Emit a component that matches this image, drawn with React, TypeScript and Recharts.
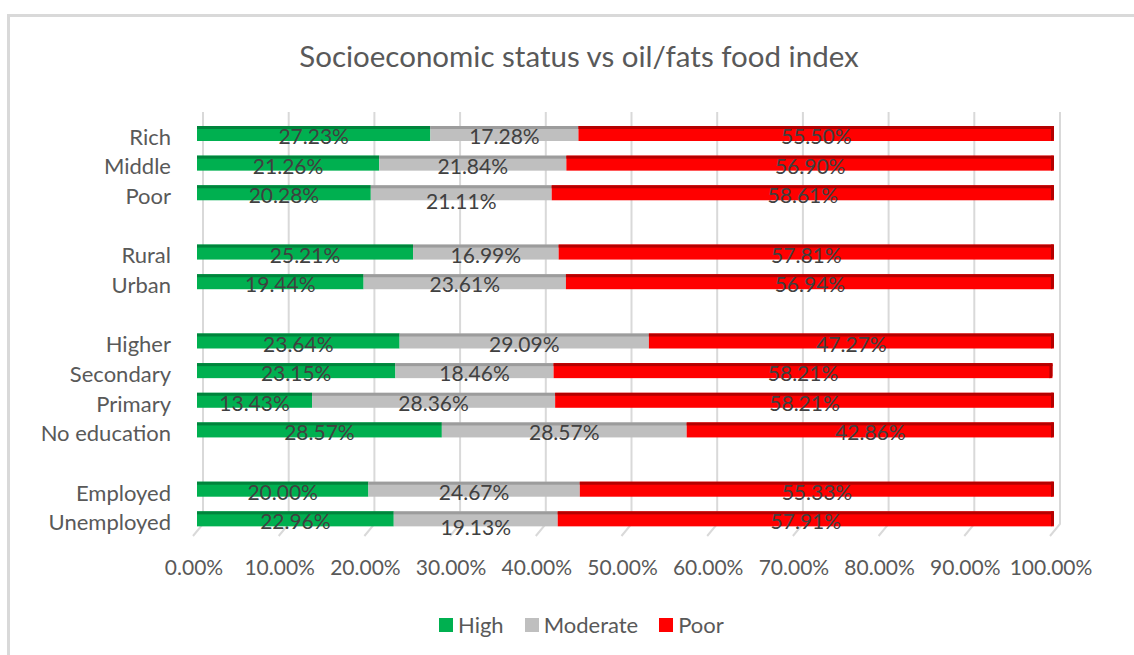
import React from 'react';
import { BarChart, Bar, XAxis, YAxis, CartesianGrid, Legend, LabelList } from 'recharts';

// Rows of the chart; null marks the blank spacer row between groups.
const categories: (string | null)[] = [
  'Rich', 'Middle', 'Poor', null,
  'Rural', 'Urban', null,
  'Higher', 'Secondary', 'Primary', 'No education', null,
  'Employed', 'Unemployed',
];
const highValues: (number | null)[] = [27.23, 21.26, 20.28, null, 25.21, 19.44, null, 23.64, 23.15, 13.43, 28.57, null, 20.0, 22.96];
const moderateValues: (number | null)[] = [17.28, 21.84, 21.11, null, 16.99, 23.61, null, 29.09, 18.46, 28.36, 28.57, null, 24.67, 19.13];
const poorValues: (number | null)[] = [55.5, 56.9, 58.61, null, 57.81, 56.94, null, 47.27, 58.21, 58.21, 42.86, null, 55.33, 57.91];

const xTicks = [0, 10, 20, 30, 40, 50, 60, 70, 80, 90, 100];
const seriesNames = ['High', 'Moderate', 'Poor'];
const seriesKeys = ['high', 'moderate', 'poor'];
const seriesColors = ['#00B050', '#BFBFBF', '#FF0000'];
const seriesEdges = ['#00843C', '#9C9C9C', '#B50000'];
// Moderate labels that sit a little below their bar.
const moderateLabelsBelow = ['Poor', 'Unemployed'];

const FONT = "Lato, 'Liberation Sans', sans-serif";
const TEXT = '#595959';

const rows = categories.map((c, i) => ({
  id: c ?? `gap-${i}`,
  high: highValues[i],
  moderate: moderateValues[i],
  poor: poorValues[i],
}));

const makeShape = (face: string, edge: string, endCap: boolean) => (props: any) => {
  const { x, y, width, height } = props;
  if (!width || width <= 0 || !height || Number.isNaN(x)) return <g />;
  const r = x + width;
  return (
    <g>
      <rect x={x} y={y} width={width} height={height} fill={face} />
      <rect x={x} y={y} width={width} height={3} fill={edge} />
      {endCap && (
        <path
          d={`M ${r - 3} ${y} H ${r - 1} Q ${r} ${y} ${r} ${y + 2} V ${y + height - 3} Q ${r} ${y + height} ${r - 3} ${y + height} Z`}
          fill={edge}
        />
      )}
    </g>
  );
};

const makeLabel = (lowered: string[]) => (props: any) => {
  const { x, y, width, height, value, index } = props;
  if (value == null || !width) return <g />;
  const name = categories[index];
  const shift = name && lowered.includes(name) ? 6 : 0;
  return (
    <text
      x={x + width / 2}
      y={y + height / 2 + 10.5 + shift}
      textAnchor="middle"
      fill="#404040"
      fontSize={21}
      fontFamily={FONT}
    >
      {`${Number(value).toFixed(2)}%`}
    </text>
  );
};

const gridLine = (props: any) => {
  const { x1, y1, y2, key } = props;
  return (
    <path
      key={key}
      d={`M ${x1 + 6} ${y1 - 7} V ${y2 - 10} L ${x1 - 4} ${y2 + 2}`}
      stroke="#D9D9D9"
      strokeWidth={2}
      fill="none"
    />
  );
};

const YTick = (props: any) => {
  const { x, y, payload } = props;
  const v = String(payload.value);
  if (v.startsWith('gap-')) return <g />;
  return (
    <text x={x} y={y + 11} textAnchor="end" fill={TEXT} fontSize={22} fontFamily={FONT}>
      {v}
    </text>
  );
};

const XTick = (props: any) => {
  const { x, y, payload } = props;
  return (
    <text x={x - 3} y={y + 41} textAnchor="middle" fill={TEXT} fontSize={21} fontFamily={FONT}>
      {`${Number(payload.value).toFixed(2)}%`}
    </text>
  );
};

const renderLegend = () => (
  <div style={{ display: 'flex', alignItems: 'center', fontFamily: FONT, fontSize: 22, color: TEXT, whiteSpace: 'nowrap' }}>
    {seriesNames.map((n, i) => (
      <div key={n} style={{ display: 'flex', alignItems: 'center', marginRight: i < seriesNames.length - 1 ? 21 : 0 }}>
        <span style={{ width: 14, height: 14, background: seriesColors[i], display: 'inline-block', marginRight: 5 }} />
        <span>{n}</span>
      </div>
    ))}
  </div>
);

export default function App() {
  return (
    <div style={{ position: 'absolute', left: 0, top: 0, width: 1134, height: 655, overflow: 'hidden', background: '#fff' }}>
      <div
        style={{
          position: 'absolute', left: 7, top: 14, width: 1200, height: 700,
          borderLeft: '3px solid #D9D9D9', borderTop: '3px solid #D9D9D9',
        }}
      />
      <div
        style={{
          position: 'absolute', left: 0, top: 38, width: 1158, textAlign: 'center',
          fontFamily: FONT, fontSize: 29.5, color: TEXT, lineHeight: '36px',
        }}
      >
        Socioeconomic status vs oil/fats food index
      </div>
      <div style={{ position: 'absolute', left: 0, top: 0 }}>
        <BarChart
          width={1134}
          height={655}
          data={rows}
          layout="vertical"
          margin={{ top: 119, right: 80, bottom: 91, left: 0 }}
        >
          <CartesianGrid horizontal={false} vertical={gridLine} />
          <XAxis
            type="number"
            domain={[0, 100]}
            ticks={xTicks}
            allowDataOverflow
            axisLine={false}
            tickLine={false}
            tickSize={0}
            tickMargin={0}
            height={30}
            tick={<XTick />}
            interval={0}
          />
          <YAxis
            type="category"
            dataKey="id"
            width={197}
            axisLine={false}
            tickLine={false}
            tickSize={0}
            tickMargin={26}
            interval={0}
            tick={<YTick />}
          />
          <Legend
            verticalAlign="middle"
            align="center"
            wrapperStyle={{ left: 439, top: 611, width: 'auto' }}
            content={renderLegend}
          />
          {seriesKeys.map((k, i) => (
            <Bar
              key={k}
              dataKey={k}
              name={seriesNames[i]}
              stackId="s"
              fill={seriesColors[i]}
              barSize={15}
              isAnimationActive={false}
              shape={makeShape(seriesColors[i], seriesEdges[i], i === seriesKeys.length - 1)}
            >
              <LabelList
                dataKey={k}
                content={makeLabel(k === 'moderate' ? moderateLabelsBelow : [])}
              />
            </Bar>
          ))}
        </BarChart>
      </div>
    </div>
  );
}
